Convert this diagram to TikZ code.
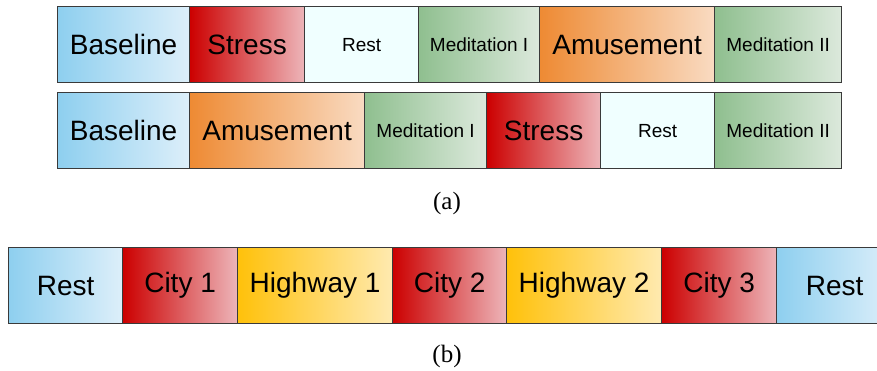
\documentclass[tikz,border=0pt]{standalone}
\usepackage{fontspec}
\setmainfont{Liberation Serif}
\newfontfamily\segfont{Liberation Sans}
\definecolor{blueL}{HTML}{8ECFEF}
\definecolor{blueR}{HTML}{DDEFFA}
\definecolor{redL}{HTML}{CC0000}
\definecolor{redR}{HTML}{EDB5B9}
\definecolor{restC}{HTML}{F0FFFF}
\definecolor{greenL}{HTML}{8FBF8F}
\definecolor{greenR}{HTML}{DCE9DC}
\definecolor{orangeL}{HTML}{EE8A33}
\definecolor{orangeR}{HTML}{F9DBC2}
\definecolor{yellowL}{HTML}{FFC10A}
\definecolor{yellowR}{HTML}{FFEAB0}
\definecolor{edge}{HTML}{3A3A3A}
\tikzset{
  seg/.style={draw=edge, line width=1.2pt, anchor=north west, inner sep=0pt,
    minimum height=76pt, text=black, font=\segfont\fontsize{28}{30}\selectfont, align=center},
  small/.style={font=\segfont\fontsize{19}{21}\selectfont},
  blueseg/.style={left color=blueL, right color=blueR},
  redseg/.style={left color=redL, right color=redR},
  restseg/.style={fill=restC},
  greenseg/.style={left color=greenL, right color=greenR},
  orangeseg/.style={left color=orangeL, right color=orangeR},
  yellowseg/.style={left color=yellowL, right color=yellowR},
  caption/.style={font=\fontsize{25}{27}\selectfont, inner sep=0pt}
}
\begin{document}
\begin{tikzpicture}[x=1pt,y=-1pt]
\useasboundingbox (0,0) rectangle (877,370);
% row 1
\node[seg, blueseg,   minimum width=132pt] (a1) at (57,6)  {Baseline};
\node[seg, redseg,    minimum width=115pt] (a2) at (189,6) {Stress};
\node[seg, restseg, small, minimum width=114pt] (a3) at (304,6) {Rest};
\node[seg, greenseg, small, minimum width=121pt] (a4) at (418,6) {Meditation I};
\node[seg, orangeseg, minimum width=175pt] (a5) at (539,6) {Amusement};
\node[seg, greenseg, small, minimum width=127pt] (a6) at (714,6) {Meditation II};
% row 2
\node[seg, blueseg,   minimum width=132pt] (b1) at (57,92)  {Baseline};
\node[seg, orangeseg, minimum width=175pt] (b2) at (189,92) {Amusement};
\node[seg, greenseg, small, minimum width=122pt] (b3) at (364,92) {Meditation I};
\node[seg, redseg,    minimum width=114pt] (b4) at (486,92) {Stress};
\node[seg, restseg, small, minimum width=114pt] (b5) at (600,92) {Rest};
\node[seg, greenseg, small, minimum width=127pt] (b6) at (714,92) {Meditation II};
\node[caption] (capa) at (447,203) {(a)};
% row b
\node[seg, blueseg,   minimum width=114pt] (c1) at (8,247)   {\raisebox{-3pt}{Rest}};
\node[seg, redseg,    minimum width=115pt] (c2) at (122,247) {City 1};
\node[seg, yellowseg, minimum width=155pt] (c3) at (237,247) {Highway 1};
\node[seg, redseg,    minimum width=114pt] (c4) at (392,247) {City 2};
\node[seg, yellowseg, minimum width=155pt] (c5) at (506,247) {Highway 2};
\node[seg, redseg,    minimum width=115pt] (c6) at (661,247) {City 3};
\node[seg, blueseg,   minimum width=116pt] (c7) at (776,247) {\raisebox{-3pt}{Rest}};
\node[caption] (capb) at (447,356) {(b)};
\end{tikzpicture}
\end{document}
